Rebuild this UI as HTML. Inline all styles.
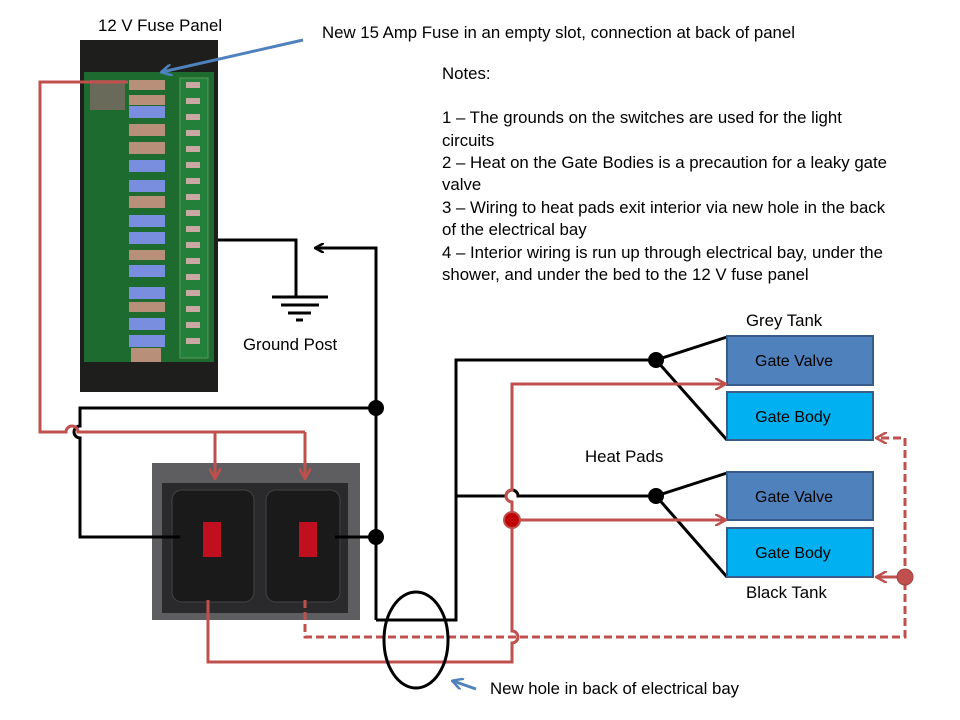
<!DOCTYPE html><html><head><style>body{margin:0;background:#fff}svg{display:block}text{font-family:"Liberation Sans",sans-serif;font-size:16.8px;fill:#000}</style></head><body>
<svg width="960" height="720" viewBox="0 0 960 720" xmlns="http://www.w3.org/2000/svg">
<defs>
<marker id="ab" markerWidth="10" markerHeight="10" refX="8" refY="5" orient="auto" markerUnits="userSpaceOnUse"><path d="M0,0 L9,5 L0,10" fill="none" stroke="#000" stroke-width="2.5"/></marker>
<marker id="ar" markerWidth="12" markerHeight="12" refX="10" refY="6" orient="auto" markerUnits="userSpaceOnUse"><path d="M0,0 L11,6 L0,12" fill="none" stroke="#c0504d" stroke-width="2.5"/></marker>
<marker id="abl" markerWidth="12" markerHeight="12" refX="10" refY="6" orient="auto" markerUnits="userSpaceOnUse"><path d="M0,0 L11,6 L0,12" fill="none" stroke="#4f81bd" stroke-width="2.5"/></marker>
</defs>
<rect x="80" y="40" width="138" height="352" fill="#1e1e1c"/>
<rect x="84" y="72" width="130" height="290" fill="#1d6b2e"/>
<rect x="180" y="78" width="28" height="280" fill="#23803a" stroke="#5a9a5a"/>
<g fill="#7a8ee0">
<rect x="129" y="106" width="36" height="12"/><rect x="129" y="160" width="36" height="12"/><rect x="129" y="180" width="36" height="12"/><rect x="129" y="215" width="36" height="12"/><rect x="129" y="232" width="36" height="12"/><rect x="129" y="265" width="36" height="12"/><rect x="129" y="287" width="36" height="12"/><rect x="129" y="318" width="36" height="12"/><rect x="129" y="335" width="36" height="12"/></g>
<g fill="#b8907a"><rect x="129" y="80" width="36" height="10"/><rect x="129" y="95" width="36" height="10"/><rect x="129" y="124" width="36" height="12"/><rect x="129" y="142" width="36" height="12"/><rect x="129" y="196" width="36" height="12"/><rect x="129" y="250" width="36" height="10"/><rect x="129" y="302" width="36" height="10"/><rect x="131" y="348" width="30" height="14"/></g>
<g fill="#c8a8a0"><rect x="186" y="82" width="14" height="6"/><rect x="186" y="98" width="14" height="6"/><rect x="186" y="114" width="14" height="6"/><rect x="186" y="130" width="14" height="6"/><rect x="186" y="146" width="14" height="6"/><rect x="186" y="162" width="14" height="6"/><rect x="186" y="178" width="14" height="6"/><rect x="186" y="194" width="14" height="6"/><rect x="186" y="210" width="14" height="6"/><rect x="186" y="226" width="14" height="6"/><rect x="186" y="242" width="14" height="6"/><rect x="186" y="258" width="14" height="6"/><rect x="186" y="274" width="14" height="6"/><rect x="186" y="290" width="14" height="6"/><rect x="186" y="306" width="14" height="6"/><rect x="186" y="322" width="14" height="6"/><rect x="186" y="338" width="14" height="6"/></g>
<rect x="90" y="80" width="35" height="30" fill="#6a6a5a"/>
<rect x="152" y="463" width="208" height="157" fill="#5e5e60"/>
<rect x="162" y="483" width="186" height="130" fill="#2a2a2c"/>
<rect x="172" y="490" width="82" height="112" rx="10" fill="#1a1a1a" stroke="#444"/>
<rect x="266" y="490" width="74" height="112" rx="10" fill="#1a1a1a" stroke="#444"/>
<rect x="203" y="522" width="18" height="35" fill="#c01020"/><rect x="299" y="522" width="18" height="35" fill="#c01020"/>
<g fill="none" stroke="#000" stroke-width="3">
<path d="M218,240 H296 V296"/>
<path d="M272,297 H328 M281,305 H319 M288,313 H311 M296,320 H303"/>
<path d="M376,620 V248 H316" marker-end="url(#ab)"/>
<path d="M376,408 H80 V426 A6,6 0 0 0 80,438 V537 H180"/>
<path d="M335,537 H376"/>
<path d="M376,620 H456 V360 H656"/>
<path d="M456,496 H506 A6,6 0 0 1 518,496 H656"/>
<path d="M727,337 L656,360 L727,440"/>
<path d="M727,473 L656,496 L727,577"/>
</g>
<g fill="#000"><circle cx="376" cy="408" r="8"/><circle cx="376" cy="537" r="8"/><circle cx="656" cy="360" r="8"/><circle cx="656" cy="496" r="8"/></g>
<g stroke="#385d8a" stroke-width="2">
<rect x="727" y="336" width="146" height="49" fill="#4f81bd"/>
<rect x="727" y="392" width="146" height="48" fill="#00b0f0"/>
<rect x="727" y="472" width="146" height="48" fill="#4f81bd"/>
<rect x="727" y="528" width="146" height="49" fill="#00b0f0"/>
</g>
<g text-anchor="middle"><text x="794" y="366" style="font-size:16px">Gate Valve</text><text x="793" y="422" style="font-size:16px">Gate Body</text><text x="794" y="502" style="font-size:16px">Gate Valve</text><text x="793" y="558" style="font-size:16px">Gate Body</text></g>
<g fill="none" stroke="#c0504d" stroke-width="3">
<path d="M128,82 H40 V432 H66 A6,6 0 0 1 78,432 H305"/>
<path d="M215,432 V478" marker-end="url(#ar)"/>
<path d="M305,432 V478" marker-end="url(#ar)"/>
<path d="M512,520 V502 A6,6 0 0 1 512,490 V384 H725" marker-end="url(#ar)"/>
<path d="M512,520 H725" marker-end="url(#ar)"/>
<path d="M512,520 V631 A6,6 0 0 1 512,643 V662 H208 V600"/>
<path d="M305,600 V637 H905 V438 H877" stroke-dasharray="8,4" marker-end="url(#ar)"/>
<path d="M905,577 H877" marker-end="url(#ar)"/>
</g>
<circle cx="512" cy="520" r="8" fill="#c00000" stroke="#c0504d" stroke-width="2"/>
<circle cx="905" cy="577" r="8" fill="#c0504d" stroke="#a04040"/>
<ellipse cx="416" cy="640" rx="32" ry="48" fill="none" stroke="#000" stroke-width="3"/>
<path d="M303,40 L162,72" stroke="#4f81bd" stroke-width="3" fill="none" marker-end="url(#abl)"/>
<path d="M476,689 L453,681" stroke="#4f81bd" stroke-width="3" fill="none" marker-end="url(#abl)"/>
<text x="98" y="31">12 V Fuse Panel</text>
<text x="322" y="38">New 15 Amp Fuse in an empty slot, connection at back of panel</text>
<text x="442" y="79">Notes:</text>
<text x="442" y="123">1 – The grounds on the switches are used for the light</text>
<text x="442" y="146">circuits</text>
<text x="442" y="168">2 – Heat on the Gate Bodies is a precaution for a leaky gate</text>
<text x="442" y="190">valve</text>
<text x="442" y="213">3 – Wiring to heat pads exit interior via new hole in the back</text>
<text x="442" y="235">of the electrical bay</text>
<text x="442" y="258">4 – Interior wiring is run up through electrical bay, under the</text>
<text x="442" y="280">shower, and under the bed to the 12 V fuse panel</text>
<text x="243" y="350">Ground Post</text>
<text x="746" y="326">Grey Tank</text>
<text x="585" y="462">Heat Pads</text>
<text x="746" y="598">Black Tank</text>
<text x="490" y="694">New hole in back of electrical bay</text>
</svg></body></html>
